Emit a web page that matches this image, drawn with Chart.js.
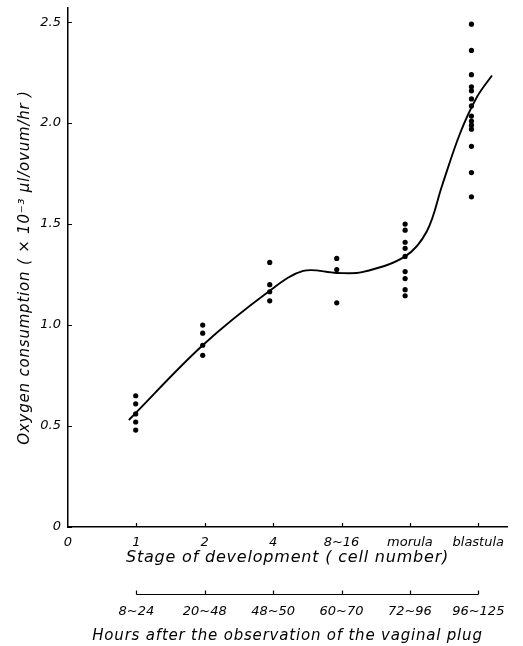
<!DOCTYPE html>
<html>
<head>
<meta charset="utf-8">
<script src="https://cdn.jsdelivr.net/npm/chart.js@4"></script>
<style>
  html, body { margin: 0; padding: 0; background: #fff; }
  #chart { display: block; }
</style>
</head>
<body>
<canvas id="chart" width="523" height="646"></canvas>
<script>
// stage positions on the x axis and their labels
var stageTicks = [0, 1, 2, 3, 4, 5, 6];
var stageLabels = ['0', '1', '2', '4', '8~16', 'morula', 'blastula'];
var hourTicks = [1, 2, 3, 4, 5, 6];
var hourLabels = ['8~24', '20~48', '48~50', '60~70', '72~96', '96~125'];
var yTicks = [0, 0.5, 1.0, 1.5, 2.0, 2.5];

// where each column of dots sits
var stageX = [0.99, 1.97, 2.95, 3.93, 4.93, 5.9];

// oxygen consumption per ovum, x 10^-3 ul/hr
var o2Cell1 = [0.65, 0.61, 0.56, 0.52, 0.48];
var o2Cell2 = [1.00, 0.96, 0.90, 0.85];
var o2Cell4 = [1.31, 1.20, 1.165, 1.12];
var o2Cell8to16 = [1.33, 1.275, 1.11];
var o2Morula = [1.50, 1.47, 1.41, 1.38, 1.34, 1.265, 1.23, 1.175, 1.145];
var o2Blastula = [2.49, 2.36, 2.24, 2.18, 2.16, 2.12, 2.085, 2.035, 2.01, 1.99, 1.97, 1.885, 1.755, 1.635];

// fitted curve
var curveX = [0.89, 1.97, 2.95, 3.44, 3.93, 4.3, 4.93, 5.25, 5.47, 5.73, 5.98, 6.2];
var curveY = [0.53, 0.90, 1.17, 1.268, 1.258, 1.262, 1.34, 1.466, 1.69, 1.946, 2.129, 2.236];

var allGroups = [o2Cell1, o2Cell2, o2Cell4, o2Cell8to16, o2Morula, o2Blastula];
var dots = [];
allGroups.forEach(function (group, i) {
    group.forEach(function (v) {
        dots.push({ x: stageX[i], y: v });
    });
});
var curve = curveX.map(function (x, i) { return { x: x, y: curveY[i] }; });

var tickFont = { family: 'DejaVu Sans', style: 'italic', size: 13 };
var titleFont = { family: 'DejaVu Sans', style: 'italic', size: 15, lineHeight: 1.2 };

function noPad(scale) {
    scale.paddingLeft = 0;
    scale.paddingRight = 0;
    scale.paddingTop = 0;
    scale.paddingBottom = 0;
}

// inner ticks, the hours bracket, and letter spacing for the axis titles
var decor = {
    id: 'decor',
    beforeDraw: function (chart) {
        chart.ctx.letterSpacing = '0.8px';
    },
    afterDatasetsDraw: function (chart) {
        chart.ctx.letterSpacing = '0px';
    },
    afterDraw: function (chart) {
        var ctx = chart.ctx;
        var x = chart.scales.x, y = chart.scales.y, x2 = chart.scales.x2;
        ctx.save();
        ctx.strokeStyle = '#000';
        ctx.lineWidth = 1.2;
        ctx.beginPath();
        yTicks.forEach(function (v) {
            var py = Math.round(y.getPixelForValue(v)) + 0.5;
            ctx.moveTo(x.left, py);
            ctx.lineTo(x.left + 4, py);
        });
        stageTicks.slice(1).forEach(function (v) {
            var px = Math.round(x.getPixelForValue(v)) + 0.5;
            ctx.moveTo(px, y.bottom);
            ctx.lineTo(px, y.bottom - 4);
        });
        var by = Math.round(x2.top + 19) + 0.5;
        ctx.moveTo(x2.getPixelForValue(hourTicks[0]), by);
        ctx.lineTo(x2.getPixelForValue(hourTicks[hourTicks.length - 1]), by);
        hourTicks.forEach(function (v) {
            var px = Math.round(x2.getPixelForValue(v)) + 0.5;
            ctx.moveTo(px, by);
            ctx.lineTo(px, by - 4);
        });
        ctx.stroke();
        ctx.restore();
    }
};

new Chart(document.getElementById('chart'), {
    type: 'scatter',
    data: {
        datasets: [{
            label: 'curve',
            data: curve,
            showLine: true,
            tension: 0.35,
            borderColor: '#000',
            borderWidth: 1.9,
            pointRadius: 0,
            fill: false
        }, {
            label: 'ova',
            data: dots,
            pointRadius: 2.6,
            pointBackgroundColor: '#000',
            pointBorderColor: '#000',
            pointBorderWidth: 0
        }]
    },
    options: {
        responsive: false,
        animation: false,
        devicePixelRatio: 1,
        layout: { padding: { top: 8, right: 16, left: 0, bottom: 0 } },
        plugins: { legend: { display: false }, tooltip: { enabled: false } },
        scales: {
            x: {
                type: 'linear',
                position: 'bottom',
                min: 0,
                max: 6.42,
                afterBuildTicks: function (scale) {
                    scale.ticks = stageTicks.map(function (v) { return { value: v }; });
                },
                afterFit: function (scale) { scale.height = 48; noPad(scale); },
                border: { display: true, color: '#000', width: 1.5 },
                grid: { display: false, drawTicks: false },
                ticks: {
                    z: 1,
                    color: '#000',
                    font: tickFont,
                    padding: 8,
                    maxRotation: 0,
                    autoSkip: false,
                    callback: function (v) { return stageLabels[stageTicks.indexOf(v)]; }
                },
                title: {
                    display: true,
                    text: 'Stage of development ( cell number)',
                    color: '#000',
                    font: { family: 'DejaVu Sans', style: 'italic', size: 16, lineHeight: 1.2 },
                    padding: { top: 0, bottom: 8 }
                }
            },
            x2: {
                type: 'linear',
                position: 'bottom',
                weight: 1,
                min: 0,
                max: 6.42,
                afterBuildTicks: function (scale) {
                    scale.ticks = hourTicks.map(function (v) { return { value: v }; });
                },
                afterFit: function (scale) { scale.height = 71; noPad(scale); },
                border: { display: false },
                grid: { display: false, drawTicks: false },
                ticks: {
                    z: 1,
                    color: '#000',
                    font: tickFont,
                    padding: 29,
                    maxRotation: 0,
                    autoSkip: false,
                    callback: function (v) { return hourLabels[hourTicks.indexOf(v)]; }
                },
                title: {
                    display: true,
                    text: 'Hours after the observation of the vaginal plug',
                    color: '#000',
                    font: titleFont,
                    padding: { top: 0, bottom: 1 }
                }
            },
            y: {
                type: 'linear',
                min: 0,
                max: 2.57,
                afterBuildTicks: function (scale) {
                    scale.ticks = yTicks.map(function (v) { return { value: v }; });
                },
                afterFit: function (scale) { scale.width = 68; noPad(scale); },
                border: { display: true, color: '#000', width: 1.5 },
                grid: { display: false, drawTicks: false },
                ticks: {
                    z: 1,
                    color: '#000',
                    font: tickFont,
                    padding: 7,
                    callback: function (v) { return v === 0 ? '0' : v.toFixed(1); }
                },
                title: {
                    display: true,
                    text: 'Oxygen consumption ( \u00d7 10\u207b\u00b3 \u00b5l/ovum/hr )',
                    color: '#000',
                    font: titleFont,
                    padding: { top: 16, bottom: 0 }
                }
            }
        }
    },
    plugins: [decor]
});
</script>
</body>
</html>
